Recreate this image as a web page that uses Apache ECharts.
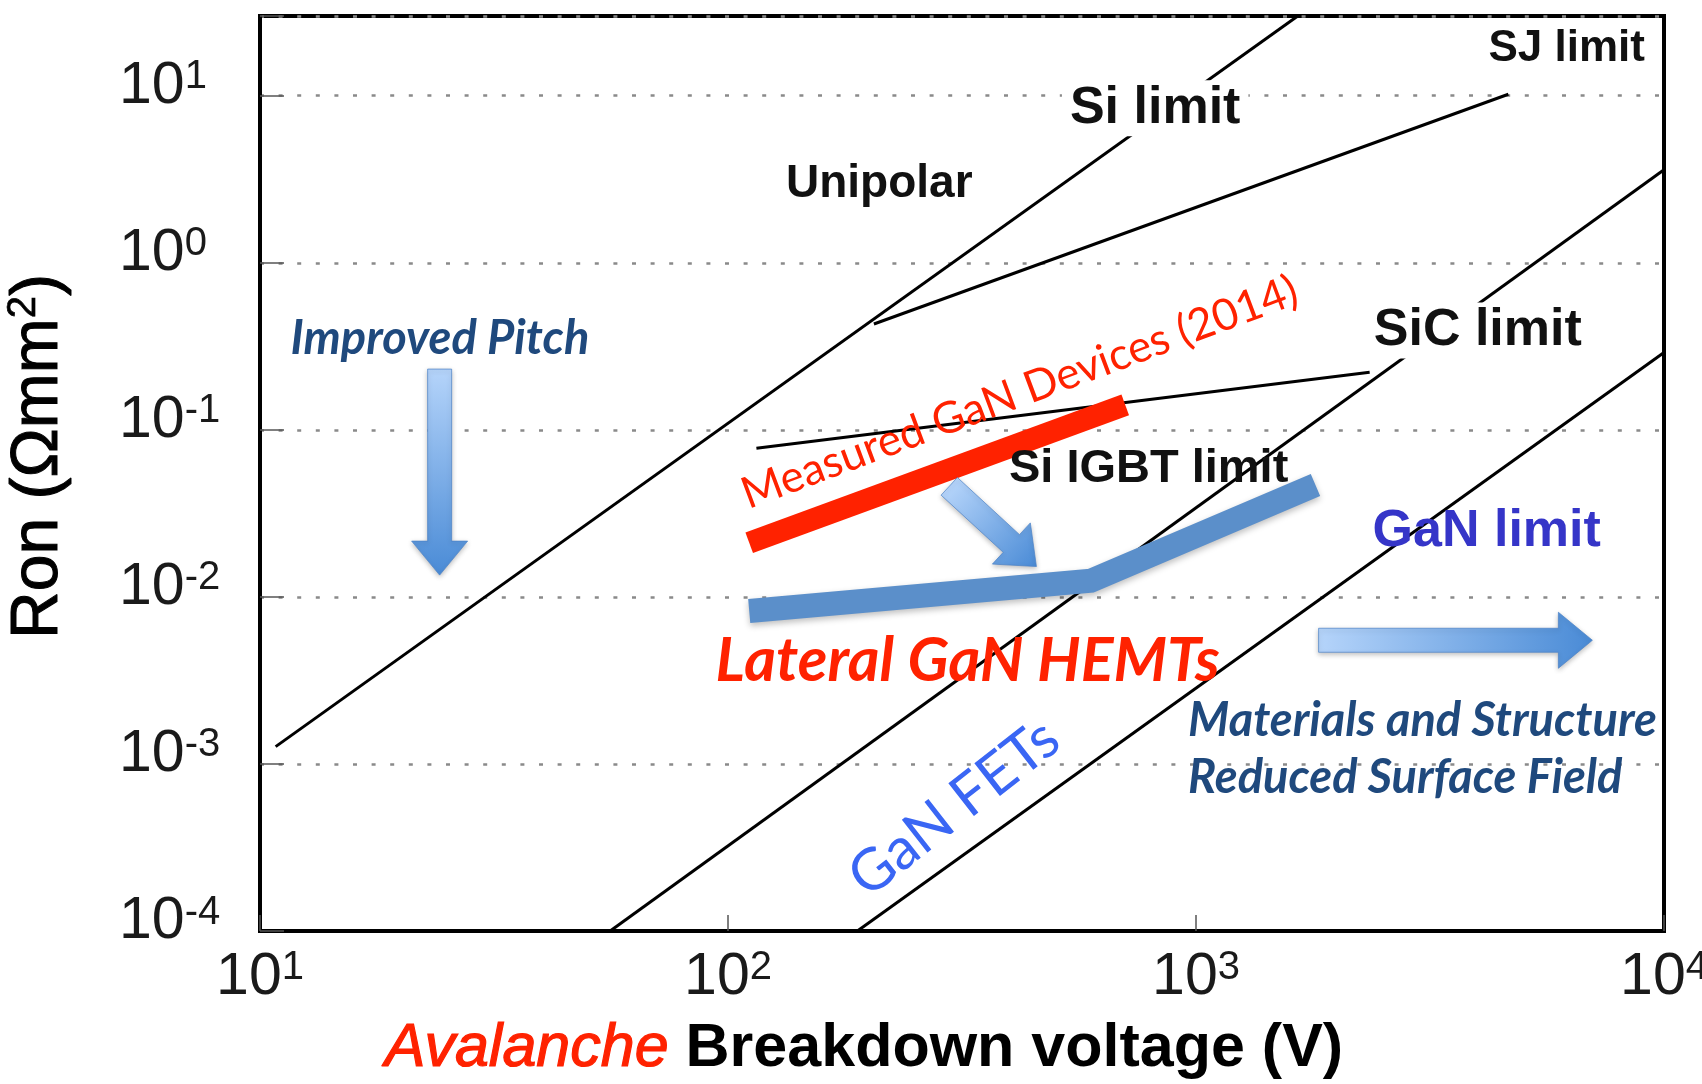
<!DOCTYPE html>
<html>
<head>
<meta charset="utf-8">
<title>Ron vs breakdown voltage</title>
<script src="https://cdn.jsdelivr.net/npm/echarts@6/dist/echarts.min.js"></script>
<style>
  html, body { margin: 0; padding: 0; background: #ffffff; }
  #chart { width: 1702px; height: 1084px; }
</style>
</head>
<body>
<div id="chart"></div>
<script>
// ---- data: [breakdown voltage (V), specific on-resistance (Ohm*mm^2)] ----
const siLimit     = [[10.8, 1.27e-3], [1650, 30]];
const sjLimit     = [[205, 0.43], [4650, 10.2]];
const igbtLimit   = [[115, 0.0776], [2350, 0.221]];
const sicLimit    = [[56, 1.0e-4], [10000, 3.6]];
const ganLimit    = [[189, 1.0e-4], [10000, 0.29]];
const measuredGaN = [[111, 0.0211], [706, 0.141]];
const lateralHEMT = [[111, 0.00824], [596, 0.0125], [1800, 0.0467]];

// trend arrows: [fromV, fromRon, toV, toRon]
const pitchArrow  = [24.2, 0.231, 24.2, 0.0135];
const shrinkArrow = [297, 0.0459, 456, 0.0152];
const resurfArrow = [1828, 0.0055, 7030, 0.0055];

// decade tick labels
const xTicks = [10, 100, 1000, 10000];
const yTicks = [1e-4, 1e-3, 1e-2, 1e-1, 1, 10];

const SANS = '"Liberation Sans", Arial, Helvetica, sans-serif';
const HUMAN = 'Lato, "Open Sans", sans-serif';
const NAVY = '#1f497d';
const RED = '#ff2200';

// use a condensed face for the decade labels when one is installed
function fontAvailable(name) {
  const ctx = document.createElement('canvas').getContext('2d');
  const sample = '1010 Breakdown';
  ctx.font = '40px monospace'; const a = ctx.measureText(sample).width;
  ctx.font = '40px serif'; const b = ctx.measureText(sample).width;
  ctx.font = '40px "' + name + '", monospace'; const c = ctx.measureText(sample).width;
  ctx.font = '40px "' + name + '", serif'; const d = ctx.measureText(sample).width;
  return c !== a || d !== b;
}
const NARROW = fontAvailable('Liberation Sans Narrow');
const tickFont = NARROW
  ? { family: '"Liberation Sans Narrow", ' + SANS, base: 64, sup: 42 }
  : { family: SANS, base: 59, sup: 40 };

function decadeLabel(v, list) {
  const hit = list.some(t => Math.abs(t - v) / t < 1e-6);
  if (!hit) return '';
  return '{b|10}{s|' + Math.round(Math.log10(v)) + '}';
}

const tickRich = {
  b: { fontFamily: tickFont.family, fontSize: tickFont.base, color: '#1a1a1a', lineHeight: tickFont.base },
  s: { fontFamily: tickFont.family, fontSize: tickFont.sup, color: '#1a1a1a', verticalAlign: 'top', lineHeight: tickFont.sup }
};

function note(text, at, label) {
  return {
    value: at,
    label: Object.assign({
      show: true, formatter: text, position: [0, 0], opacity: 1,
      align: 'center', verticalAlign: 'middle'
    }, label)
  };
}

const noteItems = [
  note('Unipolar', [211, 2.94], { fontFamily: SANS, fontWeight: 'bold', fontSize: 46, color: '#111' }),
  note('Si limit', [820, 8.36], { fontFamily: SANS, fontWeight: 'bold', fontSize: 52, color: '#111', backgroundColor: '#fff', padding: [2, 8] }),
  note('SJ limit', [6210, 19.0], { fontFamily: SANS, fontWeight: 'bold', fontSize: 44, color: '#111' }),
  note('SiC limit', [4010, 0.39], { fontFamily: SANS, fontWeight: 'bold', fontSize: 52, color: '#111', backgroundColor: '#fff', padding: [2, 6] }),
  note('Si IGBT limit', [794, 0.0575], { fontFamily: SANS, fontWeight: 'bold', fontSize: 47, color: '#111' }),
  note('GaN limit', [4190, 0.0245], { fontFamily: SANS, fontWeight: 'bold', fontSize: 52, color: '#3535c8' }),
  note('Improved Pitch', [24.3, 0.346], { fontFamily: HUMAN, fontWeight: 'bold', fontStyle: 'italic', fontSize: 47, color: NAVY }),
  note('Measured GaN Devices (2014)', [421, 0.166], { fontFamily: HUMAN, fontSize: 44, color: RED, rotate: 20.5 }),
  note('Lateral GaN HEMTs', [326, 0.00407], { fontFamily: HUMAN, fontWeight: 'bold', fontStyle: 'italic', fontSize: 61, color: RED }),
  note('GaN FETs', [305, 5.42e-4], { fontFamily: HUMAN, fontSize: 58, color: '#3a66f4', rotate: 38 }),
  note('Materials and Structure', [964, 1.79e-3], { fontFamily: HUMAN, fontWeight: 'bold', fontStyle: 'italic', fontSize: 47, color: NAVY, align: 'left' }),
  note('Reduced Surface Field', [964, 8.24e-4], { fontFamily: HUMAN, fontWeight: 'bold', fontStyle: 'italic', fontSize: 47, color: NAVY, align: 'left' })
];

// block arrow drawn between two data points
function renderArrow(params, api) {
  const p0 = api.coord([api.value(0), api.value(1)]);
  const p1 = api.coord([api.value(2), api.value(3)]);
  const dx = p1[0] - p0[0], dy = p1[1] - p0[1];
  const len = Math.hypot(dx, dy);
  const ux = dx / len, uy = dy / len, nx = -uy, ny = ux;
  const sw = 12, hw = 28, hl = 34;
  const bx = p1[0] - ux * hl, by = p1[1] - uy * hl;
  const pts = [
    [p0[0] + nx * sw, p0[1] + ny * sw],
    [bx + nx * sw, by + ny * sw],
    [bx + nx * hw, by + ny * hw],
    [p1[0], p1[1]],
    [bx - nx * hw, by - ny * hw],
    [bx - nx * sw, by - ny * sw],
    [p0[0] - nx * sw, p0[1] - ny * sw]
  ];
  return {
    type: 'polygon',
    shape: { points: pts },
    style: {
      fill: new echarts.graphic.LinearGradient(p0[0], p0[1], p1[0], p1[1], [
        { offset: 0, color: '#b5d4fa' },
        { offset: 1, color: '#4a8bd6' }
      ], true),
      stroke: 'rgba(74,130,200,0.7)',
      lineWidth: 1,
      shadowBlur: 5,
      shadowOffsetY: 2,
      shadowColor: 'rgba(0,0,0,0.25)'
    }
  };
}

function limitLine(data) {
  return {
    type: 'line', data: data, showSymbol: false, silent: true,
    lineStyle: { color: '#000', width: 3 }, z: 3
  };
}

const chart = echarts.init(document.getElementById('chart'));
chart.setOption({
  animation: false,
  backgroundColor: '#ffffff',
  grid: {
    left: 260, right: 38, top: 16, bottom: 153,
    show: true, borderColor: '#000', borderWidth: 4,
    outerBoundsMode: 'none'
  },
  xAxis: {
    type: 'log', logBase: 10, min: 10, max: 10000,
    axisLine: { show: true, lineStyle: { color: '#000', width: 4 } },
    axisTick: { show: true, inside: true, length: 16, lineStyle: { color: '#555', width: 1.5 } },
    splitLine: { show: false },
    axisLabel: {
      margin: 17,
      formatter: v => decadeLabel(v, xTicks),
      rich: tickRich
    },
    name: '{r|Avalanche}{k| Breakdown voltage (V)}',
    nameLocation: 'middle',
    nameGap: 88,
    nameTextStyle: {
      padding: [0, 196, 0, 0],
      rich: {
        r: { fontFamily: SANS, fontStyle: 'italic', fontSize: 61, color: RED, textBorderColor: RED, textBorderWidth: 1.2 },
        k: { fontFamily: SANS, fontWeight: 'bold', fontSize: 61, color: '#000' }
      }
    }
  },
  yAxis: {
    type: 'log', logBase: 10, min: 1e-4, max: 30,
    axisLine: { show: true, lineStyle: { color: '#000', width: 4 } },
    axisTick: { show: true, inside: true, length: 24, lineStyle: { color: '#555', width: 1.5 } },
    splitLine: { show: true, lineStyle: { color: '#8a8a8a', width: 2.5, type: [4, 14.6] } },
    axisLabel: {
      margin: 141,
      align: 'left',
      padding: [0, 0, 18, 0],
      formatter: v => decadeLabel(v, yTicks),
      rich: tickRich
    },
    name: '{k|Ron (Ωmm}{s|2}{k|)}',
    nameLocation: 'middle',
    nameGap: 186,
    nameTextStyle: {
      padding: [0, 0, 0, 34],
      rich: {
        k: { fontFamily: SANS, fontSize: 66, color: '#000', textBorderColor: '#000', textBorderWidth: 1, lineHeight: 70 },
        s: { fontFamily: SANS, fontSize: 40, color: '#000', textBorderColor: '#000', textBorderWidth: 0.7, verticalAlign: 'top', lineHeight: 44 }
      }
    }
  },
  series: [
    limitLine(siLimit),
    limitLine(sjLimit),
    limitLine(igbtLimit),
    limitLine(sicLimit),
    limitLine(ganLimit),
    {
      type: 'line', data: measuredGaN, showSymbol: false, silent: true, z: 5,
      lineStyle: { color: RED, width: 22, cap: 'butt' }
    },
    {
      type: 'line', data: lateralHEMT, showSymbol: false, silent: true, z: 5,
      lineStyle: {
        color: '#5b8fca', width: 24, cap: 'butt', join: 'miter',
        shadowBlur: 6, shadowOffsetY: 3, shadowColor: 'rgba(0,0,0,0.25)'
      }
    },
    {
      type: 'custom', renderItem: renderArrow, silent: true, z: 6, clip: false,
      data: [pitchArrow, shrinkArrow, resurfArrow]
    },
    {
      type: 'scatter', data: noteItems, symbolSize: 1, silent: true, z: 10, clip: false,
      itemStyle: { color: 'rgba(0,0,0,0)', opacity: 1 }
    }
  ]
});
</script>
</body>
</html>
